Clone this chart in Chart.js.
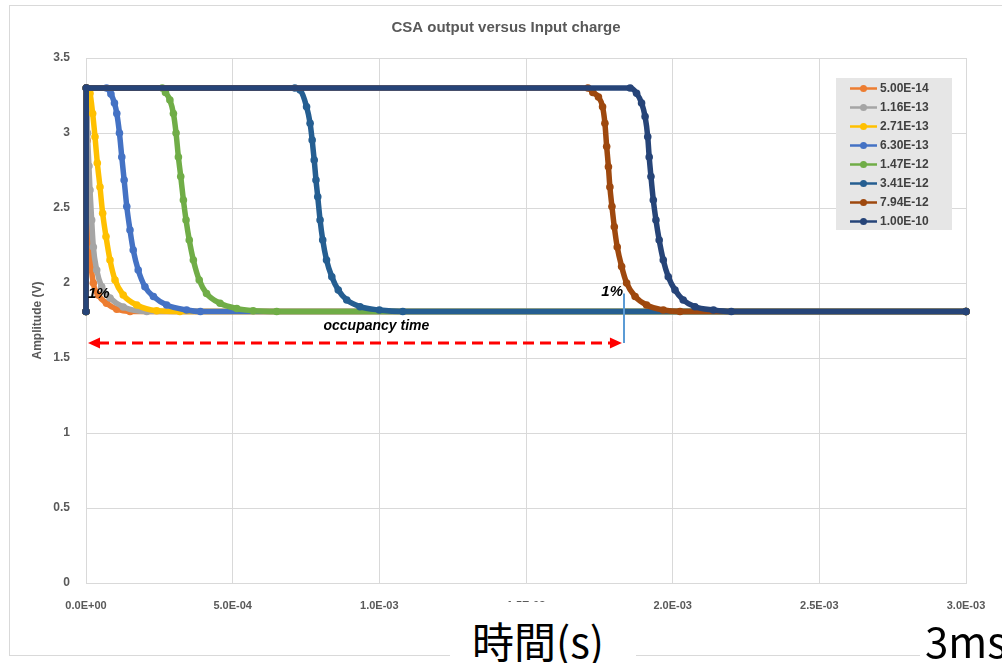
<!DOCTYPE html>
<html>
<head>
<meta charset="utf-8">
<script src="https://cdn.jsdelivr.net/npm/chart.js@4.4.0/dist/chart.umd.min.js"></script>
<style>
  html, body { margin: 0; padding: 0; background: #fff; }
  #wrap { position: relative; width: 1002px; height: 663px; overflow: hidden; }
  #frame { position: absolute; left: 9px; top: 5px; width: 1100px; height: 651px; border: 1px solid #d9d9d9; box-sizing: border-box; }
  #chart { position: absolute; left: 0; top: 0; }
  .big { position: absolute; box-sizing: border-box; font-family: 'Noto Sans CJK JP', 'Noto Sans', sans-serif; font-size: 42px; line-height: 1; color: #000; background: #fff; white-space: nowrap; }
  #xlab { left: 450px; top: 602px; width: 186px; height: 61px; padding: 17px 0 0 22px; }
  #ms { left: 920px; top: 614px; width: 82px; height: 49px; padding: 5px 0 0 5px; }
</style>
</head>
<body>
<div id="wrap">
  <div id="frame"></div>
  <canvas id="chart" width="1002" height="663"></canvas>
  <div class="big" id="xlab">時間(s)</div>
  <div class="big" id="ms">3ms</div>
</div>
<script>
// input charge of each curve (legend labels)
const charges = ['5.00E-14', '1.16E-13', '2.71E-13', '6.30E-13', '1.47E-12', '3.41E-12', '7.94E-12', '1.00E-10'];
const colors = ['#ED7D31', '#A5A5A5', '#FFC000', '#4472C4', '#70AD47', '#255E91', '#9E480E', '#264478'];

// [time (s), amplitude (V)]
const q5e14 = [[0, 1.81], [0.000001, 3.30], [0.000004, 2.95], [0.000008, 2.62], [0.000012, 2.36], [0.000016, 2.16],
  [0.000025, 2.00], [0.000042, 1.92], [0.00007, 1.865], [0.000105, 1.825], [0.00015, 1.81], [0.003, 1.81]];
const q116e13 = [[0, 1.81], [0.000001, 3.30], [0.000005, 3.0], [0.00001, 2.78], [0.0000136, 2.62], [0.0000193, 2.42],
  [0.000025, 2.24], [0.0000364, 2.087], [0.0000535, 1.975], [0.000082, 1.90], [0.000127, 1.84], [0.000207, 1.81], [0.003, 1.81]];
const q271e13 = [[0, 1.81], [0.000001, 3.30], [0.0000136, 3.265], [0.0000227, 3.13], [0.0000307, 2.975], [0.0000386, 2.80],
  [0.0000477, 2.64], [0.0000568, 2.465], [0.0000682, 2.31], [0.0000818, 2.153], [0.0000989, 2.02], [0.000127, 1.92],
  [0.000173, 1.853], [0.000241, 1.815], [0.00032, 1.81], [0.003, 1.81]];
const q630e13 = [[0, 1.81], [0.000001, 3.30], [0.00007, 3.30], [0.000085, 3.26], [0.000097, 3.2], [0.000105, 3.13],
  [0.000114, 3.0], [0.000122, 2.84], [0.00013, 2.687], [0.000139, 2.51], [0.00015, 2.353], [0.000161, 2.22],
  [0.000178, 2.087], [0.000201, 1.975], [0.00023, 1.91], [0.000275, 1.853], [0.000343, 1.82], [0.00039, 1.81], [0.003, 1.81]];
const q147e12 = [[0, 1.81], [0.000001, 3.30], [0.00026, 3.30], [0.000271, 3.27], [0.000286, 3.22], [0.000298, 3.13],
  [0.000307, 3.0], [0.000315, 2.84], [0.000323, 2.71], [0.000332, 2.553], [0.000341, 2.42], [0.000352, 2.287],
  [0.000366, 2.153], [0.000386, 2.02], [0.000411, 1.93], [0.000457, 1.865], [0.000514, 1.83], [0.00057, 1.815],
  [0.00065, 1.81], [0.003, 1.81]];
const q341e12 = [[0, 1.81], [0.000001, 3.30], [0.000712, 3.30], [0.00073, 3.287], [0.000752, 3.175], [0.000764, 3.065],
  [0.000771, 2.953], [0.000778, 2.82], [0.000784, 2.687], [0.00079, 2.575], [0.000798, 2.42], [0.000807, 2.287],
  [0.00082, 2.153], [0.000838, 2.042], [0.00086, 1.953], [0.000889, 1.887], [0.000934, 1.842], [0.001, 1.82],
  [0.00108, 1.81], [0.003, 1.81]];
const q794e12 = [[0, 1.81], [0.000001, 3.30], [0.001711, 3.30], [0.001728, 3.27], [0.001747, 3.24], [0.001761, 3.175],
  [0.001769, 3.065], [0.001775, 2.91], [0.001781, 2.775], [0.001786, 2.64], [0.001793, 2.51], [0.001801, 2.375],
  [0.001811, 2.24], [0.001826, 2.11], [0.001843, 2.0], [0.001872, 1.91], [0.001911, 1.853], [0.001968, 1.82],
  [0.002025, 1.81], [0.003, 1.81]];
const q100e10 = [[0, 1.81], [0.000001, 3.30], [0.001855, 3.30], [0.001877, 3.265], [0.001894, 3.2], [0.001906, 3.11],
  [0.001915, 2.975], [0.00192, 2.84], [0.001926, 2.71], [0.001934, 2.553], [0.001943, 2.42], [0.001954, 2.287],
  [0.001968, 2.153], [0.001985, 2.042], [0.002008, 1.953], [0.002036, 1.887], [0.002076, 1.842], [0.002139, 1.82],
  [0.0022, 1.81], [0.003, 1.81]];
const seriesPoints = [q5e14, q116e13, q271e13, q630e13, q147e12, q341e12, q794e12, q100e10];

const xTickValues = [0, 0.0005, 0.001, 0.0015, 0.002, 0.0025, 0.003];
const yTickValues = [0, 0.5, 1, 1.5, 2, 2.5, 3, 3.5];

const FONT = "'Liberation Sans', Arial, sans-serif";
const GRID = '#d9d9d9';
const TXT = '#595959';

// 5.0E-04 style labels like excel
function sci(v) {
  if (v === 0) return '0.0E+00';
  const parts = v.toExponential(1).split('e');
  const n = parseInt(parts[1], 10);
  return parts[0] + 'E' + (n < 0 ? '-' : '+') + String(Math.abs(n)).padStart(2, '0');
}

// extra drawing: title, legend box, arrow and notes
const extras = {
  id: 'extras',
  afterDatasetsDraw(chart) {
    const ctx = chart.ctx;
    const xs = chart.scales.x, ys = chart.scales.y;
    const ay = ys.getPixelForValue(1.6);
    const ax0 = xs.getPixelForValue(0) + 2;
    const ax1 = xs.getPixelForValue(0.001827);
    ctx.save();

    // blue marker line at 1%
    const bx = xs.getPixelForValue(0.001834);
    ctx.strokeStyle = '#5B9BD5';
    ctx.lineWidth = 2;
    ctx.beginPath();
    ctx.moveTo(bx, ys.getPixelForValue(1.93));
    ctx.lineTo(bx, ay);
    ctx.stroke();

    // red dashed double arrow
    ctx.strokeStyle = '#FF0000';
    ctx.fillStyle = '#FF0000';
    ctx.lineWidth = 3;
    ctx.setLineDash([11, 6]);
    ctx.beginPath();
    ctx.moveTo(ax0 + 10, ay);
    ctx.lineTo(ax1 - 10, ay);
    ctx.stroke();
    ctx.setLineDash([]);
    ctx.beginPath();
    ctx.moveTo(ax0, ay); ctx.lineTo(ax0 + 12, ay - 5.5); ctx.lineTo(ax0 + 12, ay + 5.5); ctx.closePath();
    ctx.fill();
    ctx.beginPath();
    ctx.moveTo(ax1, ay); ctx.lineTo(ax1 - 12, ay - 5.5); ctx.lineTo(ax1 - 12, ay + 5.5); ctx.closePath();
    ctx.fill();

    // notes
    ctx.fillStyle = '#000';
    ctx.font = 'italic bold 15px ' + FONT;
    ctx.textBaseline = 'middle';
    ctx.textAlign = 'left';
    ctx.fillText('1%', xs.getPixelForValue(0) + 2, ys.getPixelForValue(1.93));
    ctx.textAlign = 'right';
    ctx.fillText('1%', bx - 1, ys.getPixelForValue(1.94));
    ctx.font = 'italic bold 14px ' + FONT;
    ctx.textAlign = 'center';
    ctx.fillText('occupancy time', xs.getPixelForValue(0.00099), ys.getPixelForValue(1.71));
    ctx.restore();
  },
  afterDraw(chart) {
    const ctx = chart.ctx;
    ctx.save();
    // title
    ctx.fillStyle = TXT;
    ctx.font = 'bold 15px ' + FONT;
    ctx.textAlign = 'center';
    ctx.textBaseline = 'middle';
    ctx.fillText('CSA output versus Input charge', 506, 28);

    // legend box
    ctx.fillStyle = '#e6e6e6';
    ctx.fillRect(836, 78, 116, 152);
    ctx.font = 'bold 12px ' + FONT;
    ctx.textAlign = 'left';
    chart.data.datasets.forEach((ds, i) => {
      const y = 88.5 + i * 19;
      ctx.strokeStyle = ds.borderColor;
      ctx.lineWidth = 2.5;
      ctx.beginPath();
      ctx.moveTo(850, y);
      ctx.lineTo(877, y);
      ctx.stroke();
      ctx.fillStyle = ds.borderColor;
      ctx.beginPath();
      ctx.arc(863.5, y, 3.5, 0, Math.PI * 2);
      ctx.fill();
      ctx.fillStyle = '#404040';
      ctx.fillText(ds.label, 880, y + 0.5);
    });
    ctx.restore();
  }
};

const chart = new Chart(document.getElementById('chart').getContext('2d'), {
  type: 'line',
  data: {
    datasets: charges.map((c, i) => ({
      label: c,
      data: seriesPoints[i].map(p => ({ x: p[0], y: p[1] })),
      borderColor: colors[i],
      backgroundColor: colors[i],
      borderWidth: 5.5,
      borderCapStyle: 'round',
      borderJoinStyle: 'round',
      pointRadius: 3.8,
      pointHoverRadius: 3.8,
      pointBorderWidth: 0,
      cubicInterpolationMode: 'monotone',
      clip: false,
      order: charges.length - i // last series on top, as in excel
    }))
  },
  options: {
    responsive: false,
    animation: false,
    devicePixelRatio: 1,
    layout: { padding: { left: 24, right: 36, top: 58, bottom: 0 } },
    plugins: {
      legend: { display: false },
      tooltip: { enabled: false },
      title: { display: false }
    },
    scales: {
      x: {
        type: 'linear',
        min: 0,
        max: 0.003,
        afterBuildTicks: s => { s.ticks = xTickValues.map(v => ({ value: v })); },
        afterFit: s => { s.height = 80; },
        grid: { color: GRID, drawTicks: false },
        border: { color: GRID },
        ticks: {
          padding: 16,
          maxRotation: 0,
          autoSkip: false,
          color: TXT,
          font: { family: FONT, size: 11, weight: 'bold' },
          callback: v => sci(v)
        }
      },
      y: {
        min: 0,
        max: 3.5,
        afterBuildTicks: s => { s.ticks = yTickValues.map(v => ({ value: v })); },
        afterFit: s => { s.width = 62; },
        grid: { color: GRID, drawTicks: false },
        border: { color: GRID },
        ticks: {
          padding: 16,
          color: TXT,
          font: { family: FONT, size: 12, weight: 'bold' },
          callback: v => String(v)
        },
        title: {
          display: true,
          text: 'Amplitude (V)',
          color: TXT,
          font: { family: FONT, size: 12, weight: 'bold' },
          padding: { top: 6, bottom: 0 }
        }
      }
    }
  },
  plugins: [extras]
});
</script>
</body>
</html>
